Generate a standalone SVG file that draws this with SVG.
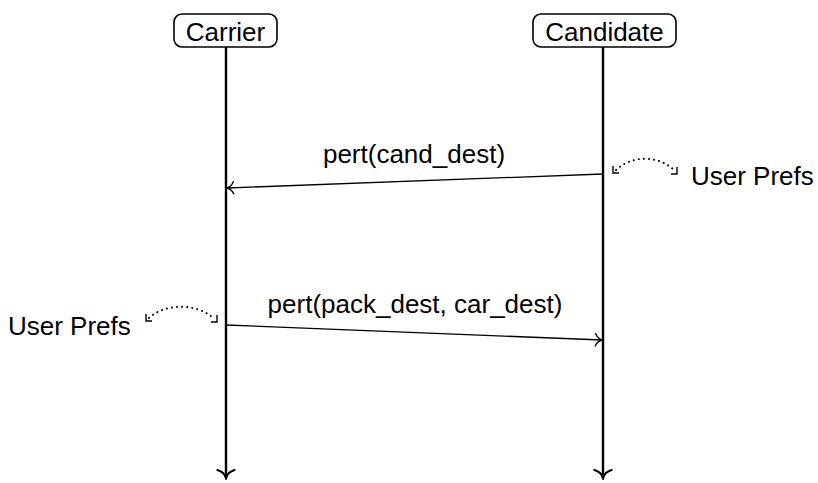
<svg xmlns="http://www.w3.org/2000/svg" width="818" height="483" viewBox="0 0 818 483">
  <style>
    text { font-family: "Liberation Sans", Arial, sans-serif; font-size: 26px; fill: #000; }
    .box { fill: #fff; stroke: #000; stroke-width: 1.6; }
    .life { stroke: #000; stroke-width: 2.4; fill: none; }
    .msg { stroke: #000; stroke-width: 1.3; fill: none; }
    .dots { stroke: #000; stroke-width: 2; fill: none; stroke-dasharray: 0.1 5; stroke-linecap: round; }
    .tick { stroke: #000; stroke-width: 1.4; fill: none; }
  </style>
  <defs>
    <marker id="to" viewBox="-8 -7 10 14" markerWidth="10" markerHeight="14" refX="0" refY="0" orient="auto" markerUnits="userSpaceOnUse">
      <path d="M -6.5 -6 C -5 -2.7 -2.5 -0.6 0 0 C -2.5 0.6 -5 2.7 -6.5 6" fill="none" stroke="#000" stroke-width="1.4" stroke-linecap="round"/>
    </marker>
    <marker id="toBig" viewBox="-10 -10 12 20" markerWidth="12" markerHeight="20" refX="0" refY="0" orient="auto" markerUnits="userSpaceOnUse">
      <path d="M -8 -8.5 C -6.5 -3.8 -3.2 -0.9 0 0 C -3.2 0.9 -6.5 3.8 -8 8.5" fill="none" stroke="#000" stroke-width="2.2" stroke-linecap="round"/>
    </marker>
  </defs>

  <!-- connectors: lifelines, messages, annotation arcs -->
  <g id="connectors">
    <line class="life" x1="226" y1="47" x2="226" y2="478" marker-end="url(#toBig)"/>
    <line class="life" x1="603" y1="47" x2="603" y2="478" marker-end="url(#toBig)"/>
    <line class="msg" x1="603" y1="174" x2="227" y2="188" marker-end="url(#to)"/>
    <line class="msg" x1="226" y1="325" x2="602" y2="340" marker-end="url(#to)"/>

    <!-- dotted arc to the right of Candidate -->
    <path class="dots" d="M 616 170 C 632 155 658 155 674 170"/>
    <path class="tick" d="M 613 166 L 613 173 L 619 173"/>
    <path class="tick" d="M 677 167 L 677 174 L 671 174"/>

    <!-- dotted arc to the left of Carrier -->
    <path class="dots" d="M 149 318 C 165 303 197 303 213 318"/>
    <path class="tick" d="M 146 314 L 146 321 L 152 321"/>
    <path class="tick" d="M 217 315 L 217 322 L 211 322"/>
  </g>

  <g id="carrier">
    <rect class="box" x="174" y="14" width="103" height="33" rx="8"/>
    <text x="225.5" y="41" text-anchor="middle">Carrier</text>
  </g>

  <g id="candidate">
    <rect class="box" x="533" y="14" width="143" height="33" rx="8"/>
    <text x="604.5" y="41" text-anchor="middle">Candidate</text>
  </g>

  <g id="msg-cand-dest">
    <text x="414" y="163" text-anchor="middle">pert(cand_dest)</text>
  </g>

  <g id="msg-pack-car-dest">
    <text x="415" y="313" text-anchor="middle">pert(pack_dest, car_dest)</text>
  </g>

  <g id="prefs-right">
    <text x="691" y="185">User Prefs</text>
  </g>

  <g id="prefs-left">
    <text x="8" y="335">User Prefs</text>
  </g>
</svg>
